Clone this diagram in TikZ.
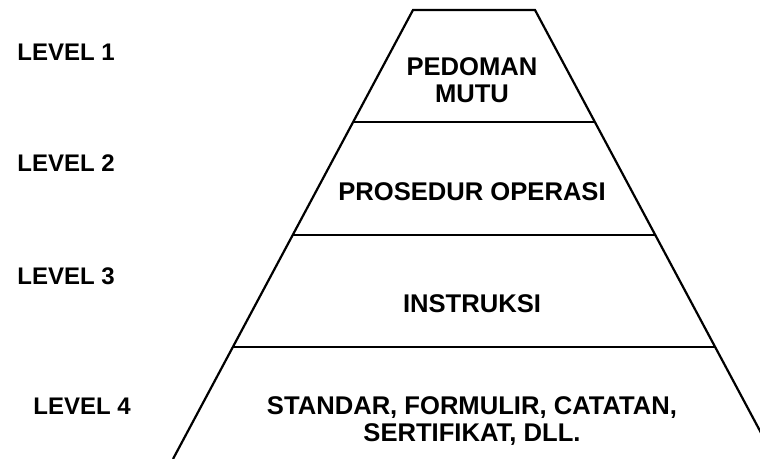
\documentclass[tikz,border=0pt]{standalone}
\usepackage{fontspec}
\setmainfont{Liberation Sans}
\usetikzlibrary{calc}

\begin{document}
\begin{tikzpicture}[x=0.5pt,y=-0.5pt,font=\bfseries\fontsize{12}{13.5}\selectfont,
    every node/.style={inner sep=0pt},
    tier/.style={line width=1.1pt},
    content/.style={align=center,font=\bfseries\fontsize{12.8}{13.5}\selectfont}]
        \useasboundingbox (0,0) rectangle (760,459);
        \clip (0,0) rectangle (760,459);
        \def\slope{0.533}
        % pyramid
        \draw[tier] (173,459) -- (413,10) -- (535,10) -- (775,459);
        \foreach \y in {122,235,347} {
          \draw[tier] ({413-\slope*(\y-10)},\y) -- ({535+\slope*(\y-10)},\y);
        }
        % levels
        \foreach \n/\y in {1/52,2/163,3/276} {
          \node[anchor=west] (level\n) at (17,\y) {LEVEL \n};
        }
        \node[anchor=west] (level4) at (33,406) {LEVEL 4};
        % contents
        \node[content] (mutu) at (472,80) {PEDOMAN\\MUTU};
        \node[content] (prosedur) at (472,192) {PROSEDUR OPERASI};
        \node[content] (instruksi) at (472,304) {INSTRUKSI};
        \node[content] (standar) at (472,421) {STANDAR, FORMULIR, CATATAN,\\SERTIFIKAT, DLL.};
      \end{tikzpicture}
\end{document}
